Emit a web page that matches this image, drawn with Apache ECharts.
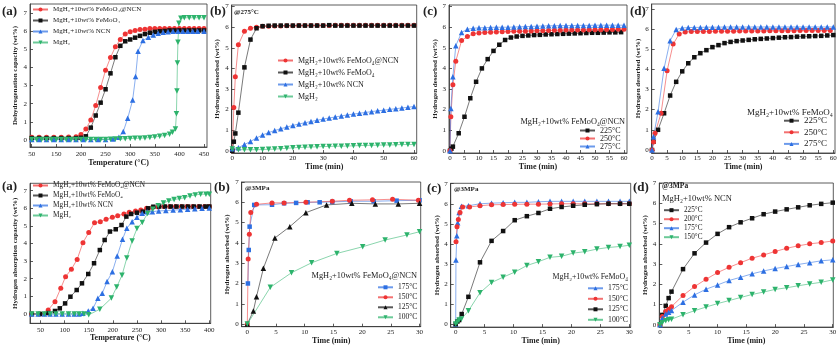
<!DOCTYPE html>
<html><head><meta charset="utf-8">
<script src="https://cdn.jsdelivr.net/npm/echarts@6/dist/echarts.min.js"></script>
<style>html,body{margin:0;padding:0;background:#fff}#c{width:840px;height:346px}</style>
</head><body><div id="c"></div><script>
const FONT = '"Liberation Serif","DejaVu Serif",serif';

// ---------- tick values / labels ----------
const Y_TICKS = [0,1,2,3,4,5,6,7];
const A1_X_TICKS = [100,150,200,250,300,350,400,450];
const A1_X_LABELS = ['50','150','200','250','300','350','400','450'];
const A2_X_TICKS = [50,100,150,200,250,300,350,400];
const T60_10 = [0,10,20,30,40,50,60];
const T60_5 = [0,5,10,15,20,25,30,35,40,45,50,55,60];
const T30_5 = [0,5,10,15,20,25,30];

// ---------- names ----------
const N_NCNF = 'MgH₂+10wt% FeMoO₄@NCN';
const N_FEMO = 'MgH₂+10wt% FeMoO₄';
const N_NCN  = 'MgH₂+10wt% NCN';
const N_MGH2 = 'MgH₂';

// ---------- (a) top: dehydrogenation vs temperature ----------
const a1_xRB = [100,115,130,145,160,175,190,200,210,220,230,240,250,260,270,280,290,300,310,320,330,340,350,360,370,380,390,400,410,420,430,440,450];
const a1_red = [0.15,0.15,0.15,0.15,0.15,0.16,0.18,0.3,0.6,1.1,1.9,2.9,3.85,4.55,5.15,5.55,5.85,5.98,6.05,6.1,6.12,6.15,6.15,6.15,6.15,6.15,6.15,6.15,6.15,6.15,6.15,6.15,6.15];
const a1_black = [0.1,0.1,0.1,0.1,0.1,0.1,0.1,0.12,0.2,0.68,1.35,2.06,2.8,3.68,4.57,5.2,5.45,5.55,5.65,5.75,5.85,5.92,5.97,6.0,6.02,6.05,6.05,6.05,6.05,6.05,6.05,6.05,6.05];
const a1_xBlue = [100,115,130,145,160,175,190,205,220,235,250,265,277,286,295,305,311,316,326,337,347,357,367,377,387,397,407,417,427,437,450];
const a1_blue = [0.02,0.02,0.02,0.02,0.02,0.02,0.02,0.02,0.02,0.02,0.03,0.05,0.15,0.46,1.2,2.2,3.5,4.9,5.5,5.67,5.8,5.9,5.95,5.98,6.0,6.0,6.0,6.0,6.0,6.0,6.0];
const a1_xGreen = [100,110,120,130,140,150,160,170,180,190,200,210,220,230,240,250,260,270,280,290,300,310,320,330,340,350,360,370,380,386,392,394,395,396,397,399,403,410,420,430,440,450];
const a1_green = [0.02,0.02,0.02,0.02,0.02,0.02,0.02,0.02,0.02,0.02,0.02,0.02,0.02,0.02,0.02,0.02,0.04,0.05,0.06,0.07,0.08,0.09,0.1,0.11,0.13,0.16,0.2,0.25,0.32,0.42,0.6,1.45,2.7,4.25,5.4,6.45,6.72,6.75,6.75,6.75,6.75,6.75];

// ---------- (b) top: 275 °C isothermal desorption ----------
const b1_xRB = [0,0.5,1,2,4,6,8,10,12,14,16,18,20,22,24,26,28,30,32,34,36,38,40,42,44,46,48,50,52,54,56,58,60];
const b1_red = [0,2.1,3.6,5.15,5.8,5.95,6.0,6.05,6.05,6.06,6.06,6.07,6.07,6.08,6.08,6.08,6.09,6.09,6.09,6.1,6.1,6.1,6.1,6.1,6.1,6.1,6.1,6.1,6.1,6.1,6.1,6.1,6.1];
const b1_black = [0,0.44,0.84,1.85,4.05,5.4,5.95,6.05,6.07,6.08,6.08,6.08,6.08,6.08,6.08,6.08,6.08,6.08,6.1,6.08,6.08,6.08,6.08,6.08,6.08,6.08,6.08,6.08,6.08,6.08,6.08,6.08,6.08];
const b1_xEven = [0,2,4,6,8,10,12,14,16,18,20,22,24,26,28,30,32,34,36,38,40,42,44,46,48,50,52,54,56,58,60];
const b1_blue = [0.1,0.15,0.3,0.45,0.62,0.77,0.88,0.98,1.07,1.15,1.23,1.3,1.36,1.42,1.48,1.54,1.59,1.64,1.69,1.74,1.78,1.82,1.86,1.9,1.94,1.97,2.01,2.04,2.08,2.11,2.15];
const b1_green = [0.08,0.05,0.05,0.05,0.05,0.06,0.07,0.08,0.1,0.12,0.14,0.16,0.17,0.18,0.19,0.2,0.21,0.22,0.22,0.23,0.24,0.25,0.26,0.26,0.27,0.28,0.28,0.29,0.3,0.3,0.3];

// ---------- (c) top: FeMoO4@NCN at 225/250/275 °C ----------
const c1_xBlack = [0,0.5,1,3,5,7,9,11,13,15,17,19,21,23,25,27,29,31,33,35,37,39,41,43,45,47,49,51,53,55,57,59];
const c1_black = [0,0.1,0.2,0.85,1.65,2.55,3.35,4.0,4.45,4.85,5.15,5.38,5.5,5.55,5.58,5.6,5.62,5.63,5.65,5.66,5.67,5.68,5.69,5.7,5.71,5.72,5.73,5.73,5.74,5.75,5.75,5.76];
const c1_xRB = [0,0.3,1,2,4,6,8,10,12,14,16,18,20,22,24,26,28,30,32,34,36,38,40,42,44,46,48,50,52,54,56,58,60];
const c1_red = [0,1.65,3.2,4.35,5.35,5.55,5.68,5.72,5.74,5.76,5.77,5.78,5.79,5.8,5.8,5.81,5.82,5.83,5.83,5.84,5.85,5.85,5.86,5.86,5.87,5.87,5.88,5.88,5.88,5.89,5.89,5.9,5.9];
const c1_blue = [0,2.05,3.6,5.1,5.75,5.9,5.95,5.97,5.98,5.99,6.0,6.0,6.0,6.01,6.02,6.03,6.04,6.05,6.06,6.07,6.07,6.08,6.08,6.08,6.09,6.09,6.09,6.1,6.1,6.1,6.1,6.1,6.1];

// ---------- (d) top: FeMoO4 at 225/250/275 °C ----------
const d1_xBB = [0,0.5,2,4,6,8,10,12,14,16,18,20,22,24,26,28,30,32,34,36,38,40,42,44,46,48,50,52,54,56,58,60];
const d1_black = [0,0.41,1.0,1.82,2.7,3.38,3.9,4.3,4.6,4.8,4.95,5.1,5.2,5.3,5.36,5.4,5.43,5.46,5.49,5.51,5.53,5.55,5.57,5.59,5.6,5.62,5.63,5.64,5.65,5.66,5.68,5.7];
const d1_blue = [0,0.66,1.9,4.05,5.42,5.98,6.05,6.07,6.08,6.08,6.09,6.09,6.09,6.1,6.1,6.1,6.1,6.1,6.1,6.1,6.1,6.1,6.1,6.1,6.1,6.1,6.1,6.1,6.1,6.1,6.1,6.1];
const d1_xRed = [0,0.5,1,3,5,7,9,11,13,15,17,19,21,23,25,27,29,31,33,35,37,39,41,43,45,47,49,51,53,55,57,59];
const d1_red = [0,0.4,0.83,1.82,3.93,5.25,5.75,5.85,5.87,5.88,5.88,5.88,5.89,5.89,5.89,5.89,5.9,5.9,5.9,5.9,5.9,5.91,5.91,5.91,5.91,5.91,5.92,5.92,5.92,5.92,5.92,5.92];

// ---------- (a) bottom: hydrogenation vs temperature ----------
const a2_xRed = [32,49,66,80,92,102,114,126,138,150,162,174,186,199,210,223,234,247,258,270,282,294,306,318,330,342,354,366,378,390,400];
const a2_red = [0,0,0.23,0.7,1.46,2.12,2.54,3.1,4.05,4.62,5.18,5.24,5.38,5.49,5.58,5.68,5.78,5.85,5.9,6.0,6.05,6.08,6.1,6.1,6.1,6.1,6.1,6.1,6.1,6.1,6.1];
const a2_xBlack = [32,49,66,80,90,101,112,125,136,149,161,173,183,194,206,218,228,238,250,262,273,284,296,308,320,332,344,356,368,380,392,400];
const a2_black = [0,0,0.05,0.17,0.32,0.6,0.98,1.36,1.74,2.27,2.88,3.63,4.2,4.68,4.81,5.05,5.53,5.68,5.75,5.81,6.0,6.09,6.1,6.1,6.1,6.1,6.1,6.1,6.1,6.1,6.1,6.1];
const a2_xBlue = [32,45,58,70,82,95,108,120,130,138,149,159,169,178,188,199,209,220,229,240,250,261,271,282,295,310,325,340,355,370,385,400];
const a2_blue = [0,0,0,0,0,0,0,0,0,0.04,0.17,0.32,0.89,1.17,1.84,2.4,3.29,4.24,4.87,5.24,5.49,5.72,5.81,5.81,5.85,5.87,5.9,5.92,5.95,5.98,6.0,6.02];
const a2_xGreen = [32,45,58,70,82,95,108,120,130,140,150,173,197,208,219,229,240,250,261,272,283,294,305,316,327,338,349,360,371,382,393,400];
const a2_green = [0,0,0,0,0,0,0,0,0,0,-0.05,0.27,0.9,1.53,2.2,3.18,4.15,4.85,5.2,5.7,5.95,6.15,6.3,6.42,6.5,6.55,6.6,6.7,6.76,6.8,6.8,6.8];

// ---------- (b) bottom: FeMoO4@NCN absorption at 3 MPa ----------
const b2_xBlue = [0.1,0.25,0.4,1.2,4.3,6.4,8.5,10.5,12.6,14.8,18,22,26,30];
const b2_blue = [2.0,3.65,4.8,5.87,5.88,5.95,5.97,6.0,6.0,6.02,6.05,6.05,6.08,6.1];
const b2_xRed = [0,0.15,0.35,0.6,1.6,4.3,6.4,10.2,14.8,17.8,21.8,25.3,29.8];
const b2_red = [0,3.2,4.43,5.5,5.9,5.97,5.97,6.0,6.05,6.1,6.12,6.15,6.1];
const b2_xBlack = [0,1.05,1.6,2.8,4.8,7.4,10.2,13.8,18.2,22.3,26.3,30];
const b2_black = [0,0.64,1.35,2.75,4.24,4.8,5.49,5.87,5.95,5.92,5.92,5.95];
const b2_xGreen = [0,4,7.7,11.2,15.6,20.1,24,27.8,30];
const b2_green = [0,1.81,2.53,3.02,3.48,3.81,4.14,4.39,4.55];

// ---------- (c) bottom: FeMoO4 absorption at 3 MPa ----------
const c2_xBlue = [0,0.05,0.2,0.35,0.6,1,2.2,4.2,6.2,8.2,10.2,12.3,14.3,16.3,18.3,20.3,22.3,24.4,26.4,28.4,30];
const c2_blue = [0,3.2,4.4,5.05,5.57,5.87,5.9,6.0,6.03,6.05,6.07,6.07,6.1,6.12,6.12,6.12,6.12,6.12,6.12,6.12,6.12];
const c2_xRed = [0.06,0.23,0.46,0.75,1.2,2.4,4.2,6.2,8.2,10.2,12.3,14.3,16.3,18.3,20.3,22.3,24.4,26.4,28.4,30];
const c2_red = [4.1,4.85,5.21,5.57,5.84,5.84,5.9,5.95,5.96,5.97,5.98,5.98,5.99,6.0,6.0,6.0,6.0,6.0,6.0,6.0];
const c2_xBlack = [0,0.3,0.6,1.04,2.2,4.2,6.2,8.2,10.2,12.3,14.3,16.3,18.3,20.3,22.3,24.4,26.4,28.4,30];
const c2_black = [0,0.13,0.2,0.5,1.36,3.08,4.15,4.64,5.18,5.38,5.54,5.75,5.84,5.9,5.95,5.98,6.0,6.0,6.0];
const c2_xGreen = [0,0.3,0.6,1,2.2,4.2,6.2,8.2,10.2,12.3,14.3,16.3,18.3,20.3,22.3,24.4,26.4,28.4,30];
const c2_green = [0,0.1,0.2,0.26,0.66,1.56,2.07,2.34,2.59,2.92,3.11,3.33,3.38,3.54,3.61,3.74,3.82,3.87,3.93];

// ---------- (d) bottom: NCN absorption at 3 MPa ----------
const d2_x = [0,0.4,1,1.5,2,4,6,8,10,12,14,16,18,20,22,24,26,28,30];
const d2_black = [0,0.49,0.94,1.32,1.64,2.75,3.53,4.06,4.49,4.82,5.06,5.26,5.46,5.59,5.7,5.8,5.9,5.97,6.03];
const d2_red = [0,0.41,0.66,0.77,0.9,1.45,1.89,2.25,2.58,2.84,3.07,3.29,3.45,3.62,3.78,3.9,4.0,4.06,4.14];
const d2_blue = [0,0.33,0.54,0.62,0.71,1.12,1.48,1.76,1.97,2.19,2.35,2.52,2.66,2.78,2.88,2.98,3.07,3.16,3.21];
const d2_green = [0,0.1,0.2,0.25,0.28,0.5,0.7,0.88,1.05,1.2,1.35,1.5,1.62,1.75,1.83,1.93,2.02,2.1,2.22];

// ---------- styles ----------
const STY = {
  red:   {color:'#ee3434', symbol:'circle', size:5},
  black: {color:'#111111', symbol:'rect', size:4.5},
  blue:  {color:'#2d6fe2', symbol:'triangle', size:5.5},
  green: {color:'#2db36c', symbol:'path://M0,0L10,0L5,9Z', size:5.5}
};

// panel layout: grid [left, top, width, height], axis extents, titles
const PANELS = [
  {grid:[30,4,177,143],   x:[96.5,456.1], xt:A1_X_TICKS, xl:A1_X_LABELS, y:[-0.39,7.51], xName:'Temperature (°C)', yName:'Dehydrogenation capacity (wt%)', yGap:11, xGap:12, xMargin:4},
  {grid:[231.7,5,185,148], x:[-0.2,60.9], xt:T60_10, y:[-0.11,7.08], xName:'Time (min)', yName:'Hydrogen desorbed (wt%)', yGap:11, xGap:9, xMargin:2},
  {grid:[449,5,178,148],   x:[-0.34,61.03], xt:T60_5, y:[-0.11,7.08], xName:'Time (min)', yName:'Hydrogen desorbed (wt%)', yGap:10, xGap:9, xMargin:2},
  {grid:[651.7,4,183.3,149], x:[-0.1,60.56], xt:T60_5, y:[-0.15,7.24], xName:'Time (min)', yName:'Hydrogen desorbed (wt%)', yGap:10, xGap:9, xMargin:2},
  {grid:[30,183.3,180.7,140], x:[28.2,402.9], xt:A2_X_TICKS, y:[-0.53,7.42], xName:'Temperature (°C)', yName:'Hydrogen absorption capacity (wt%)', yGap:11, xGap:11, xMargin:3},
  {grid:[241.7,182,179,144.7], x:[-0.98,30.2], xt:T30_5, y:[-0.13,7.0], xName:'Time (min)', yName:'Hydrogen absorbed (wt%)', yGap:11, xGap:10, xMargin:2},
  {grid:[450.7,183.3,180,145.7], x:[-0.86,30.24], xt:T30_5, y:[-0.15,7.02], xName:'Time (min)', yName:'Hydrogen absorbed (wt%)', yGap:9, xGap:9, xMargin:2},
  {grid:[659.3,183,174,144.3], x:[-0.12,30.1], xt:T30_5, y:[-0.11,7.0], xName:'Time (min)', yName:'Hydrogen absorbed (wt%)', yGap:9, xGap:9, xMargin:2}
];

const AX = '#333';
const grids = [], xAxes = [], yAxes = [];
PANELS.forEach((p, i) => {
  grids.push({left:p.grid[0], top:p.grid[1], width:p.grid[2], height:p.grid[3], show:true, borderColor:AX, borderWidth:0.8, containLabel:false});
  xAxes.push({type:'value', gridIndex:i, min:p.x[0], max:p.x[1],
    axisLine:{show:true, onZero:false, lineStyle:{color:AX, width:0.8}},
    axisTick:{show:true, inside:true, length:3, customValues:p.xt, lineStyle:{color:AX, width:0.8}},
    axisLabel:{customValues:p.xt, margin:p.xMargin, fontSize:7, fontFamily:FONT, color:'#222',
      formatter: v => p.xl ? p.xl[p.xt.indexOf(v)] : String(v)},
    splitLine:{show:false},
    name:p.xName, nameLocation:'middle', nameGap:p.xGap,
    nameTextStyle:{fontSize:8, fontWeight:'bold', fontFamily:FONT, color:'#222'}});
  yAxes.push({type:'value', gridIndex:i, min:p.y[0], max:p.y[1],
    axisLine:{show:true, onZero:false, lineStyle:{color:AX, width:0.8}},
    axisTick:{show:true, inside:true, length:3, customValues:Y_TICKS, lineStyle:{color:AX, width:0.8}},
    axisLabel:{customValues:Y_TICKS, margin:3, fontSize:7, fontFamily:FONT, color:'#222'},
    splitLine:{show:false},
    name:p.yName, nameLocation:'middle', nameGap:p.yGap, nameRotate:90,
    nameTextStyle:{fontSize:7, fontWeight:'bold', fontFamily:FONT, color:'#222'}});
});

function line(name, g, xs, ys, sty) {
  return {type:'line', name:name, xAxisIndex:g, yAxisIndex:g,
    data: xs.map((x, k) => [x, ys[k]]),
    symbol:sty.symbol, symbolSize:sty.size, showSymbol:true, animation:false, silent:true,
    itemStyle:{color:sty.color}, lineStyle:{color:sty.color, width:0.8, opacity:0.7}};
}

const series = [
  line(N_NCNF+'#A1', 0, a1_xRB, a1_red, STY.red),
  line(N_FEMO+'#A1', 0, a1_xRB, a1_black, STY.black),
  line(N_NCN+'#A1', 0, a1_xBlue, a1_blue, STY.blue),
  line(N_MGH2+'#A1', 0, a1_xGreen, a1_green, STY.green),

  line(N_NCNF+'#B1', 1, b1_xRB, b1_red, STY.red),
  line(N_FEMO+'#B1', 1, b1_xRB, b1_black, STY.black),
  line(N_NCN+'#B1', 1, b1_xEven, b1_blue, STY.blue),
  line(N_MGH2+'#B1', 1, b1_xEven, b1_green, STY.green),

  line('225°C#C1', 2, c1_xBlack, c1_black, STY.black),
  line('250°C#C1', 2, c1_xRB, c1_red, STY.red),
  line('275°C#C1', 2, c1_xRB, c1_blue, STY.blue),

  line('225°C#D1', 3, d1_xBB, d1_black, STY.black),
  line('250°C#D1', 3, d1_xRed, d1_red, STY.red),
  line('275°C#D1', 3, d1_xBB, d1_blue, STY.blue),

  line(N_NCNF+'#A2', 4, a2_xRed, a2_red, STY.red),
  line(N_FEMO+'#A2', 4, a2_xBlack, a2_black, STY.black),
  line(N_NCN+'#A2', 4, a2_xBlue, a2_blue, STY.blue),
  line(N_MGH2+'#A2', 4, a2_xGreen, a2_green, STY.green),

  line('175°C#B2', 5, b2_xBlue, b2_blue, Object.assign({}, STY.blue, {symbol:'rect', size:4.5})),
  line('150°C#B2', 5, b2_xRed, b2_red, STY.red),
  line('125°C#B2', 5, b2_xBlack, b2_black, Object.assign({}, STY.black, {symbol:'triangle', size:5.5})),
  line('100°C#B2', 5, b2_xGreen, b2_green, STY.green),

  line('175°C#C2', 6, c2_xBlue, c2_blue, STY.blue),
  line('150°C#C2', 6, c2_xRed, c2_red, STY.red),
  line('125°C#C2', 6, c2_xBlack, c2_black, STY.black),
  line('100°C#C2', 6, c2_xGreen, c2_green, STY.green),

  line('225°C#D2', 7, d2_x, d2_black, STY.black),
  line('200°C#D2', 7, d2_x, d2_red, STY.red),
  line('175°C#D2', 7, d2_x, d2_blue, STY.blue),
  line('150°C#D2', 7, d2_x, d2_green, STY.green)
];

function legend(names, left, top, gap, fs) {
  return {data:names, left:left, top:top, orient:'vertical', itemGap:gap, itemWidth:15, itemHeight:5,
    padding:0, selectedMode:false, formatter: n => n.split('#')[0],
    textStyle:{fontSize:fs, fontFamily:FONT, color:'#222'}};
}
const legends = [
  legend([N_NCNF+'#A1', N_FEMO+'#A1', N_NCN+'#A1', N_MGH2+'#A1'], 32, 6, 4, 7),
  legend([N_NCNF+'#B1', N_FEMO+'#B1', N_NCN+'#B1', N_MGH2+'#B1'], 277, 56.5, 4, 8),
  legend(['225°C#C1','250°C#C1','275°C#C1'], 579, 126.5, 0, 8),
  legend(['225°C#D1','250°C#D1','275°C#D1'], 783, 116.2, 2.6, 9),
  legend([N_NCNF+'#A2', N_FEMO+'#A2', N_NCN+'#A2', N_MGH2+'#A2'], 32, 182, 3, 7.3),
  legend(['175°C#B2','150°C#B2','125°C#B2','100°C#B2'], 377, 283.3, 2, 7.5),
  legend(['175°C#C2','150°C#C2','125°C#C2','100°C#C2'], 587, 284.3, 2.5, 7.8),
  legend(['225°C#D2','200°C#D2','175°C#D2','150°C#D2'], 663, 206.7, 2, 7.2)
];

function txt(text, pos, fs, bold) {
  return Object.assign({text:text, padding:0, itemGap:0,
    textStyle:{fontSize:fs, fontWeight:bold ? 'bold' : 'normal', fontFamily:FONT, color:'#222'}}, pos);
}
const titles = [
  txt('(a)', {left:2, top:5}, 13, true),
  txt('(b)', {left:210, top:5}, 13, true),
  txt('(c)', {left:423, top:5}, 13, true),
  txt('(d)', {left:630, top:5}, 13, true),
  txt('(a)', {left:2, top:180}, 13, true),
  txt('(b)', {left:214, top:181}, 13, true),
  txt('(c)', {left:427, top:182}, 13, true),
  txt('(d)', {left:633, top:181}, 13, true),
  txt('@275°C', {left:234, top:9}, 7, true),
  txt('@3MPa', {left:245, top:185}, 7, true),
  txt('@3MPa', {left:454, top:186}, 7, true),
  txt('@3MPa', {left:662, top:182.5}, 7.5, true),
  txt(N_NCNF, {right:215, top:117.5}, 8.3, false),
  txt(N_FEMO, {right:7, top:108}, 9, false),
  txt(N_NCNF, {right:423, top:271.8}, 8.4, false),
  txt(N_FEMO, {right:212, top:273}, 7.9, false),
  txt(N_NCN, {left:662, top:194.7}, 8.5, false)
];

const chart = echarts.init(document.getElementById('c'), null, {renderer:'canvas'});
chart.setOption({
  animation:false, backgroundColor:'#fff',
  title:titles, legend:legends, grid:grids, xAxis:xAxes, yAxis:yAxes, series:series
});
</script></body></html>
